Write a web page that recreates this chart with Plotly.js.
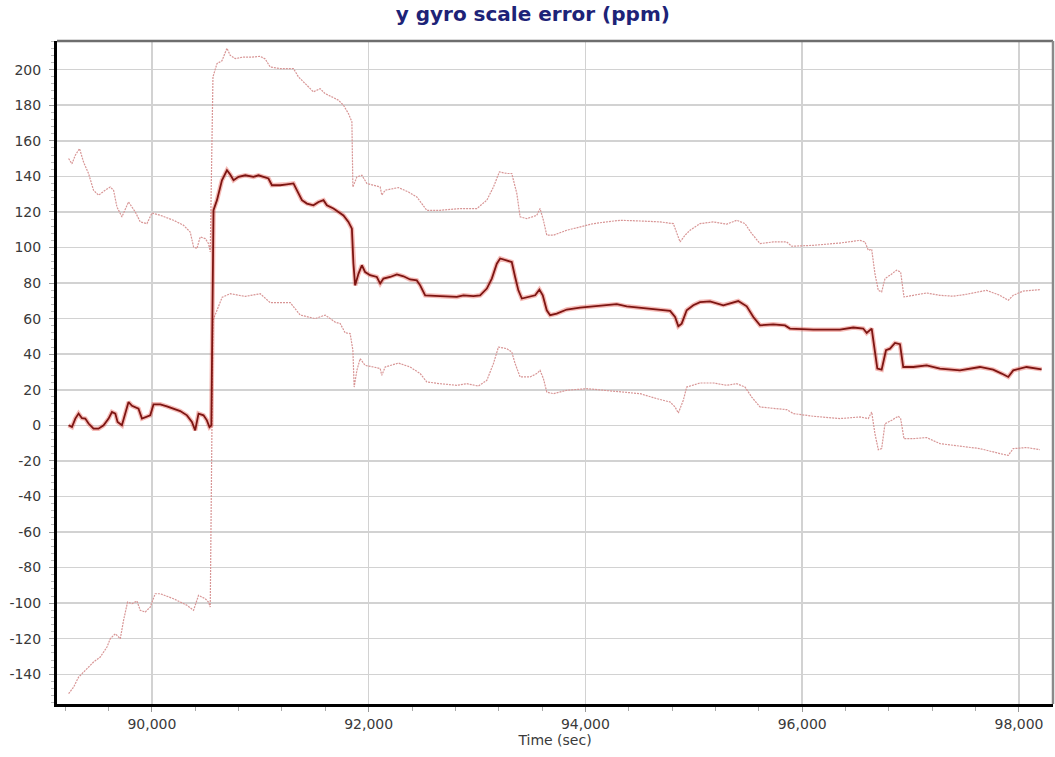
<!DOCTYPE html>
<html>
<head>
<meta charset="utf-8">
<script src="https://cdn.plot.ly/plotly-3.0.1.min.js"></script>
<style>html,body{margin:0;padding:0;background:#fff;}#chart{width:1055px;height:757px;}</style>
</head>
<body>
<div id="chart"></div>
<script>
// ---- Data ----
const timeMid = [89231,89262,89293,89323,89354,89385,89415,89461,89507,89554,89600,89631,89662,89683,89723,89754,89784,89816,89846,89876,89908,89954,89984,90015,90077,90138,90199,90261,90323,90369,90399,90430,90476,90507,90531,90548,90568,90600,90646,90692,90722,90753,90799,90861,90937,90983,91029,91075,91107,91183,91245,91306,91337,91384,91430,91490,91537,91583,91614,91675,91721,91767,91813,91845,91859,91866,91875,91906,91937,91967,92013,92075,92106,92136,92198,92260,92321,92382,92444,92475,92521,92659,92813,92874,92966,93028,93090,93136,93182,93213,93274,93320,93351,93381,93413,93489,93536,93575,93606,93643,93674,93735,93828,93950,94073,94197,94289,94381,94504,94658,94781,94827,94857,94888,94934,94995,95057,95149,95272,95410,95488,95549,95611,95733,95841,95887,96102,96349,96471,96563,96595,96641,96671,96693,96733,96773,96810,96856,96902,96932,97025,97148,97271,97455,97640,97762,97840,97901,97947,98070,98209];
const scaleError = [0,-1,3.8,6.6,4,3.8,1,-1.9,-1.9,0,3.8,7.5,6.6,1.9,0,6.6,13.1,11,10.3,9.4,3.8,4.7,5.6,11.8,11.8,10.7,9.4,8,5.6,1.9,-2.8,6.6,5.6,2.8,-1,0,121,126.6,137.8,143.4,141,137.8,139.7,140.6,139.7,140.6,139.7,138.8,135,135,135.5,136,132.2,126.6,124.7,123.7,125.6,126.6,123.7,121.9,120,118,114.4,110.6,91,82.7,78.7,85.3,90,86.2,84.4,83.4,79.7,82.5,83.4,84.9,83.8,82,81.5,78.7,73.1,72.6,72.2,73.1,72.6,73.1,76.9,82.5,90.9,93.8,92.8,91.8,83.4,75.9,71.3,72.2,73.1,76.3,73.1,64.7,61.9,62.8,65.1,66.2,66.9,67.5,68.1,66.9,66.2,65.1,64.3,60.9,55.7,57.2,64.7,67.5,69.3,69.7,67.5,69.9,66.9,60.9,56.2,56.8,56.2,54.4,53.8,53.8,55,54.4,51.9,54.4,42.2,31.9,31.3,42.2,43.1,46.3,45.6,32.8,32.8,33.7,31.9,30.9,32.8,31.3,29.1,27.2,30.9,32.8,31.5];

const timeUpper = [89231,89262,89293,89332,89369,89415,89461,89507,89569,89615,89646,89677,89723,89784,89846,89892,89954,90000,90077,90199,90291,90353,90384,90415,90445,90492,90522,90538,90563,90600,90646,90692,90722,90768,90845,90922,90999,91045,91091,91183,91306,91352,91430,91490,91552,91598,91660,91721,91767,91813,91845,91854,91891,91937,91983,92044,92106,92121,92152,92274,92367,92444,92536,92659,92844,92998,93090,93151,93206,93274,93320,93367,93397,93459,93551,93581,93612,93643,93704,93828,93950,94073,94197,94319,94504,94688,94811,94842,94873,94919,94965,95057,95180,95303,95396,95472,95534,95611,95733,95857,95903,96102,96349,96533,96579,96610,96641,96671,96702,96733,96764,96810,96871,96908,96939,97025,97148,97271,97394,97517,97701,97824,97901,97947,98039,98193];
const upperBound = [150,147,151.9,155.6,148,141.6,132.2,129.4,132.2,134,132.2,122.8,117.2,125.6,120,114.4,113.4,119.4,118.1,115.3,112.5,108.7,100.3,99.4,105.9,105,102.2,97.5,195.9,203.4,205,212,208.1,206.2,207.1,207,207.5,206,201.5,200.6,200.6,195.9,191.2,187.5,189.3,186.5,184.7,182.8,180,175.3,170.6,134,139.7,140.6,136,135,134,129.4,132.2,133.7,131.2,128.4,120.9,120.9,121.9,121.9,126.6,134,142.5,141.6,141.6,130.3,117.2,116.2,118.1,121.9,115.3,106.9,106.9,109.7,111.5,113.4,114.4,115.3,114.9,114.4,113.4,107.8,103.1,106.9,109.7,113.4,114.4,113.1,115.3,113.4,107.8,102.2,103.1,103.1,100.7,101.2,102.5,104,103.1,98.4,99,85.3,75.9,75,82.5,84.4,87.2,86.2,72.2,73.1,74.4,73.1,72.6,73.7,75.9,73.1,70.3,73.1,75.5,76.3];

const timeLower = [89231,89277,89323,89385,89461,89523,89585,89615,89662,89708,89738,89775,89816,89862,89892,89938,89984,90030,90077,90199,90323,90384,90430,90492,90522,90538,90563,90648,90722,90861,90999,91091,91276,91368,91506,91598,91691,91737,91783,91829,91854,91866,91891,91921,91967,92044,92106,92121,92152,92274,92382,92475,92536,92659,92813,92905,93012,93090,93151,93197,93274,93320,93351,93397,93489,93551,93581,93612,93643,93704,93828,94012,94197,94381,94504,94658,94781,94827,94857,94903,94934,95057,95180,95303,95396,95472,95534,95611,95795,95857,95918,96102,96349,96533,96610,96641,96671,96702,96733,96764,96825,96886,96908,96939,97025,97148,97271,97455,97640,97824,97901,97947,98070,98193];
const lowerBound = [-150.9,-147.2,-141.6,-137.8,-133.1,-130.3,-124.7,-120,-117.2,-120,-109.7,-99.4,-100.3,-98.8,-104,-105,-102.2,-94.7,-94.7,-97.5,-101.2,-104,-95.6,-97.5,-99.4,-102.2,59,72,74,72.5,74,69,69,62,60,62,58,57.2,52,51.6,42.2,21.5,30.9,37.5,33.7,32.8,31.9,28.1,32.8,35,32.8,29.1,24.4,23.4,22.5,23.4,22.1,25.3,34.7,44,43.1,41.2,34.7,27.2,27.2,29.1,30.9,26.3,18.7,17.8,19.7,20.6,19.7,18.7,17.8,15,13.1,10.3,6.9,14.1,21.5,23.8,23.8,22.5,23.4,21.5,15.9,10.3,9.4,8.8,6.6,5.1,3.8,4.7,3.8,7.5,-4.7,-13.7,-13.1,0.9,2.8,5.1,3.8,-7.5,-7.5,-6.9,-10.3,-11.8,-13.1,-15.9,-16.9,-13.1,-12.5,-13.7];

const yTickValues = [-140,-120,-100,-80,-60,-40,-20,0,20,40,60,80,100,120,140,160,180,200];
const yTickLabels = ["-140","-120","-100","-80","-60","-40","-20","0","20","40","60","80","100","120","140","160","180","200"];
const xTickValues = [90000,92000,94000,96000,98000];
const xTickLabels = ["90,000","92,000","94,000","96,000","98,000"];

const chartTitle = "y gyro scale error (ppm)";
const xTitle = "Time (sec)";

// ---- Traces ----
const boundLine = {color: 'rgb(216,150,150)', width: 1.2, dash: '2px,1px'};
const traces = [
  {x: timeUpper, y: upperBound, type: 'scatter', mode: 'lines', line: boundLine, hoverinfo: 'skip', showlegend: false},
  {x: timeLower, y: lowerBound, type: 'scatter', mode: 'lines', line: boundLine, hoverinfo: 'skip', showlegend: false},
  {x: timeMid, y: scaleError, type: 'scatter', mode: 'lines', line: {color: 'rgba(225,60,50,0.35)', width: 4.5}, hoverinfo: 'skip', showlegend: false},
  {x: timeMid, y: scaleError, type: 'scatter', mode: 'lines', line: {color: '#7d1512', width: 1.8}, showlegend: false}
];

const tickFont = {family: 'DejaVu Sans, Verdana, sans-serif', size: 14, color: '#3a3a3a'};

const layout = {
  width: 1055, height: 757,
  margin: {l: 57, r: 2, t: 41, b: 53},
  paper_bgcolor: '#ffffff', plot_bgcolor: '#ffffff',
  showlegend: false,
  title: {
    text: chartTitle,
    font: {family: 'DejaVu Sans, Verdana, sans-serif', size: 20, color: '#1d2377', weight: 'bold'},
    x: 0.505, xref: 'container', xanchor: 'center',
    y: 0.982, yref: 'container', yanchor: 'middle'
  },
  xaxis: {
    range: [89124, 98314],
    tickvals: xTickValues, ticktext: xTickLabels,
    ticks: 'outside', ticklen: 5, tickwidth: 1, tickcolor: '#999',
    showgrid: true, gridcolor: '#d2d2d2', gridwidth: 1.5,
    showline: true, linecolor: '#000', linewidth: 3,
    zeroline: false,
    tickfont: tickFont,
    minor: {dtick: 400, tick0: 0, ticks: 'outside', ticklen: 4, tickcolor: '#aaa', showgrid: false},
    title: {text: xTitle, font: {family: 'DejaVu Sans, Verdana, sans-serif', size: 14, color: '#3a3a3a'}, standoff: 1}
  },
  yaxis: {
    range: [-156.7, 216.1],
    tickvals: yTickValues, ticktext: yTickLabels,
    ticks: 'outside', ticklen: 5, tickwidth: 1, tickcolor: '#999',
    ticklabelstandoff: 5,
    showgrid: true, gridcolor: '#d2d2d2', gridwidth: 1.5,
    showline: true, linecolor: '#000', linewidth: 3,
    zeroline: false,
    tickfont: tickFont,
    minor: {dtick: 4, tick0: 0, ticks: 'outside', ticklen: 3, tickcolor: '#bbb', showgrid: false}
  },
  shapes: [
    {type: 'line', xref: 'paper', yref: 'paper', x0: 0, x1: 1, y0: 1, y1: 1, line: {color: '#6e6e6e', width: 2.5}},
    {type: 'line', xref: 'paper', yref: 'paper', x0: 1, x1: 1, y0: 0, y1: 1, line: {color: '#8a8a8a', width: 2.5}}
  ]
};

Plotly.newPlot('chart', traces, layout, {displayModeBar: false, staticPlot: true});
</script>
</body>
</html>
